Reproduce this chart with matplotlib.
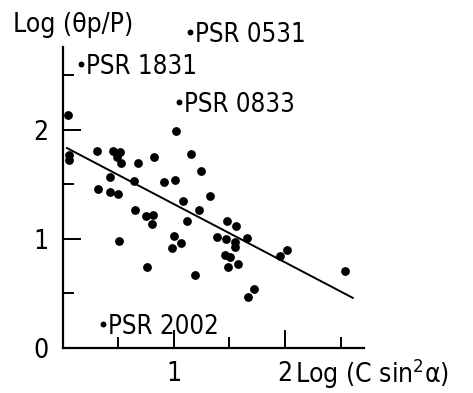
import matplotlib
matplotlib.use('Agg')
import matplotlib.pyplot as plt
from matplotlib import font_manager
from matplotlib.ticker import FixedLocator, NullFormatter

# look for a narrow sans face, the original lettering is condensed
narrow = None
for f in font_manager.fontManager.ttflist:
    if str(f.stretch) in ('condensed', 'semi-condensed', 'extra-condensed') or 'Narrow' in f.name or 'Condensed' in f.name:
        narrow = (f.name, str(f.stretch))
        break

fams = ['Liberation Sans', 'DejaVu Sans']
stretch = 'normal'
if narrow:
    fams = [narrow[0], 'DejaVu Sans']
    stretch = narrow[1]
plt.rcParams['font.family'] = fams
plt.rcParams['font.stretch'] = stretch

# scatter points
x_vals = [0.052, 0.058, 0.058, 0.307, 0.322, 0.427, 0.424, 0.456, 0.487, 0.514,
          0.526, 0.501, 0.508, 0.642, 0.651, 0.678, 0.753, 0.810, 0.807, 0.759,
          0.822, 0.912, 1.017, 1.015, 1.002, 0.988, 1.065, 1.080, 1.121, 1.155,
          1.193, 1.242, 1.226, 1.325, 1.393, 1.469, 1.480, 1.559, 1.550, 1.554,
          1.658, 1.460, 1.505, 1.574, 1.487, 1.725, 1.669, 1.951, 2.020, 2.541]
y_vals = [2.133, 1.766, 1.720, 1.806, 1.451, 1.567, 1.424, 1.805, 1.750, 1.798,
          1.695, 1.406, 0.974, 1.528, 1.257, 1.695, 1.206, 1.216, 1.130, 0.739,
          1.750, 1.516, 1.986, 1.537, 1.023, 0.913, 0.956, 1.346, 1.161, 1.772,
          0.663, 1.622, 1.261, 1.393, 1.011, 0.993, 1.163, 1.119, 0.971, 0.922,
          1.007, 0.849, 0.830, 0.766, 0.741, 0.539, 0.461, 0.842, 0.890, 0.704]

# named pulsars
psr_names = ['PSR 1831', 'PSR 0531', 'PSR 0833', 'PSR 2002']
psr_x = [0.169, 1.146, 1.047, 0.364]
psr_y = [2.601, 2.897, 2.255, 0.218]

# regression line
fit_x = [0.04, 2.61]
fit_y = [1.83, 0.455]

fig = plt.figure(figsize=(4.73, 3.93), dpi=100)
ax = fig.add_axes([62.5 / 473, 45.5 / 393, 301.5 / 473, 300.5 / 393])

ax.scatter(x_vals, y_vals, s=40, color='black', linewidths=0, zorder=3)
ax.scatter(psr_x, psr_y, s=18, color='black', linewidths=0, zorder=3, clip_on=False)
for name, px, py in zip(psr_names, psr_x, psr_y):
    ax.annotate(name, (px, py), xytext=(5, -10), textcoords='offset pixels',
                ha='left', va='baseline', fontsize=18.5, annotation_clip=False)

ax.plot(fit_x, fit_y, color='black', linewidth=1.4)

ax.set_xlim(0, 2.71)
ax.set_ylim(0, 2.757)
ax.spines['top'].set_visible(False)
ax.spines['right'].set_visible(False)
for s in ['left', 'bottom']:
    ax.spines[s].set_linewidth(1.6)

ax.xaxis.set_major_locator(FixedLocator([1, 2]))
ax.xaxis.set_minor_locator(FixedLocator([0.5, 1.5, 2.5]))
ax.yaxis.set_major_locator(FixedLocator([0, 1, 2]))
ax.yaxis.set_minor_locator(FixedLocator([0.5, 1.5, 2.5]))
ax.set_xticklabels(['1', '2'])
ax.set_yticklabels(['0', '1', '2'])
ax.xaxis.set_minor_formatter(NullFormatter())
ax.yaxis.set_minor_formatter(NullFormatter())
ax.tick_params(which='major', direction='in', length=13, width=1.4,
               labelsize=19, pad=10)
ax.tick_params(which='minor', direction='in', length=8, width=1.4)

fig.text(13 / 473, 1 - 32 / 393, 'Log (θp/P)', fontsize=19, ha='left', va='baseline')
fig.text(295 / 473, 1 - 383 / 393, 'Log (C sin$^{2}$α)', fontsize=19, ha='left', va='baseline')

fig.savefig('out.png', dpi=100)
